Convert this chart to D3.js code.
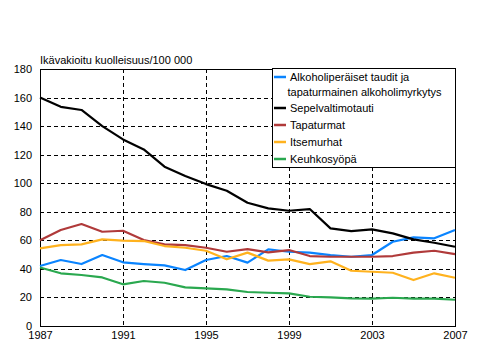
<!DOCTYPE html>
<html><head><meta charset="utf-8">
<script src="https://cdn.jsdelivr.net/npm/d3@7"></script>
<style>
body{margin:0;background:#fff;}
text{font-family:"Liberation Sans",Arial,sans-serif;font-size:11px;fill:#000;}
</style></head>
<body><svg id="c" width="483" height="346"></svg>
<script>
const years = d3.range(1987, 2008);
const alkoholi = [42, 46.2, 43.4, 49.7, 44.6, 43.4, 42.5, 39.2, 46.2, 49, 44.4, 53.7, 52, 51.4, 49.7, 48.5, 49.7, 59, 62.1, 61.4, 67.2];
const sepelvaltimo = [160, 153.5, 151.3, 140, 130.7, 123.7, 111.6, 105, 99.4, 94.7, 86.3, 82.4, 80.7, 81.9, 68.4, 66.5, 67.7, 64.9, 60.7, 58.3, 55.5];
const tapaturmat = [60, 67.2, 71.4, 66, 66.7, 60.2, 57.2, 56.7, 54.8, 52, 53.9, 51.6, 53.2, 49, 48.5, 48.5, 48.5, 49, 51.4, 52.7, 50.4];
const itsemurhat = [54.4, 56.7, 57.2, 60.7, 59.8, 59.5, 56, 54.8, 52.7, 46.7, 51.4, 45.8, 46.7, 43.3, 45.3, 38.7, 38, 37.3, 32.2, 36.9, 33.8];
const keuhkosyopa = [41, 36.9, 35.7, 34, 29.2, 31.5, 30.3, 27.1, 26.4, 25.7, 23.8, 23.3, 22.9, 20.5, 20.1, 19.4, 19.2, 19.8, 19.2, 19.2, 18.4];
const yTicks = [0, 20, 40, 60, 80, 100, 120, 140, 160, 180];
const xTicks = [1987, 1991, 1995, 1999, 2003, 2007];
const seriesNames = [["Alkoholiperäiset taudit ja", "tapaturmainen alkoholimyrkytys"], ["Sepelvaltimotauti"], ["Tapaturmat"], ["Itsemurhat"], ["Keuhkosyöpä"]];
const seriesValues = [alkoholi, sepelvaltimo, tapaturmat, itsemurhat, keuhkosyopa];
const seriesColors = ["#0a84ff", "#000000", "#b03a3a", "#ffb21e", "#2aa84f"];
const yTitle = "Ikävakioitu kuolleisuus/100 000";

const svg = d3.select("#c");
const L = 40, R = 455, T = 69, B = 326;
const x = d3.scaleLinear().domain([1987, 2007]).range([L, R]);
const y = d3.scaleLinear().domain([0, 180]).range([B, T]);

// gridlines
const g = svg.append("g");
g.selectAll(".hg").data(yTicks.filter(v => v > 0 && v < 180)).enter().append("line")
  .attr("x1", L).attr("x2", R).attr("y1", d => Math.round(y(d)) + 0.5).attr("y2", d => Math.round(y(d)) + 0.5)
  .attr("stroke", "#000").attr("stroke-dasharray", "4,3").attr("shape-rendering", "crispEdges");
g.selectAll(".vg").data(xTicks.filter(v => v > 1987 && v < 2007)).enter().append("line")
  .attr("y1", T).attr("y2", B).attr("x1", d => Math.round(x(d)) + 0.5).attr("x2", d => Math.round(x(d)) + 0.5)
  .attr("stroke", "#000").attr("stroke-dasharray", "4,3").attr("shape-rendering", "crispEdges");

// axes
const yAxis = d3.axisLeft(y).tickValues(yTicks).tickSize(0).tickPadding(8);
const ya = svg.append("g").attr("transform", `translate(${L},0)`).call(yAxis);
ya.select(".domain").remove();
ya.selectAll("text").attr("font-size", 11).attr("font-family", "Liberation Sans, Arial, sans-serif").attr("fill", "#000");
const xAxis = d3.axisBottom(x).tickValues(xTicks).tickFormat(d3.format("d")).tickSize(0).tickPadding(5);
const xa = svg.append("g").attr("transform", `translate(0,${B})`).call(xAxis);
xa.select(".domain").remove();
xa.selectAll("text").attr("font-size", 11).attr("font-family", "Liberation Sans, Arial, sans-serif").attr("fill", "#000");

// plot border
svg.append("rect").attr("x", L + 0.5).attr("y", T + 0.5).attr("width", R - L).attr("height", B - T)
  .attr("fill", "none").attr("stroke", "#000").attr("shape-rendering", "crispEdges");

// lines
const line = d3.line().x((d, i) => x(years[i])).y(d => y(d));
seriesValues.forEach((vals, k) => {
  svg.append("path").datum(vals).attr("d", line).attr("fill", "none")
    .attr("stroke", seriesColors[k]).attr("stroke-width", 2.2).attr("stroke-linejoin", "round");
});

// title
svg.append("text").attr("x", 40).attr("y", 64).text(yTitle);

// legend
const lg = svg.append("g");
lg.append("rect").attr("x", 272.5).attr("y", 68.5).attr("width", 183).attr("height", 99)
  .attr("fill", "#fff").attr("stroke", "#000").attr("shape-rendering", "crispEdges");
const rowY = [77, 108, 125, 142, 159];
seriesNames.forEach((names, k) => {
  lg.append("line").attr("x1", 274).attr("x2", 286).attr("y1", rowY[k]).attr("y2", rowY[k])
    .attr("stroke", seriesColors[k]).attr("stroke-width", 2.5);
  names.forEach((nm, j) => {
    lg.append("text").attr("x", j === 0 ? 290 : 287.5).attr("y", rowY[k] + 4 + j * 14.5).text(nm);
  });
});
</script></body></html>
